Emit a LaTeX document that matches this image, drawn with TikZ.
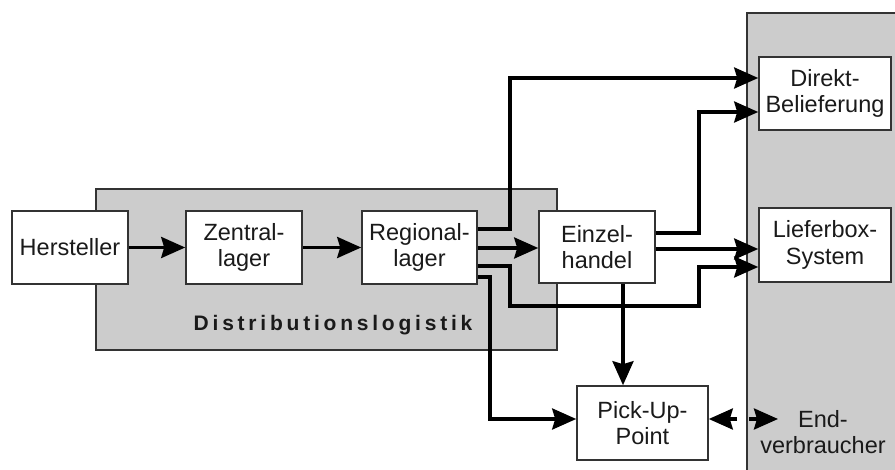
\documentclass[tikz,border=0pt]{standalone}
\usepackage{fontspec}
\setmainfont{Liberation Sans}
\newfontfamily\dlfont[LetterSpace=18]{Liberation Sans}
\usetikzlibrary{arrows.meta}
\definecolor{grayfill}{HTML}{CCCCCC}
\definecolor{edge}{HTML}{333333}
\definecolor{txt}{HTML}{1A1A1A}
\begin{document}
\begin{tikzpicture}[x=1pt,y=-1pt,
  box/.style={draw=edge,line width=1.6pt,fill=white,inner sep=0pt,align=center,
    text=txt,font=\fontsize{23.5}{26.5}\selectfont},
  area/.style={draw=edge,line width=1.2pt,fill=grayfill},
  arr/.style={line width=3.4pt,draw=black,-{Stealth[length=24pt,width=21pt,inset=3pt]}}]
\useasboundingbox (0,0) rectangle (895,470);
\fill[white] (0,0) rectangle (895,470);
% areas
\draw[area] (96,189) rectangle (557,350);
\draw[area] (747,13) rectangle (905,480);
\node[font=\dlfont\bfseries\fontsize{21}{24}\selectfont,text=txt] (dl) at (333,325) {Distributionslogistik};
% boxes
\node[box,minimum width=116pt,minimum height=73pt] (her) at (70,247.5) {Hersteller};
\node[box,minimum width=116pt,minimum height=73pt] (zen) at (244,247.5) {Zentral-\\lager};
\node[box,minimum width=115pt,minimum height=73pt] (reg) at (419.5,247.5) {Regional-\\lager};
\node[box,minimum width=116pt,minimum height=72pt] (ein) at (597,247) {Einzel-\\handel};
\node[box,minimum width=132pt,minimum height=73pt] (dir) at (825,93.5) {Direkt-\\Belieferung};
\node[box,minimum width=132pt,minimum height=74pt] (lie) at (825,245) {Lieferbox-\\System};
\node[box,minimum width=131pt,minimum height=74pt] (pic) at (642.5,423) {Pick-Up-\\Point};
\node[align=center,text=txt,font=\fontsize{23.5}{26.5}\selectfont] (end) at (823,432) {End-\\verbraucher};
% connectors
\draw[arr] (her) -- (zen);
\draw[arr] (zen) -- (reg);
\draw[arr] (reg.east |- 0,229) -- (510,229) -- (510,78) -- (dir.west |- 0,78);
\draw[arr] (reg.east |- 0,248) -- (ein.west |- 0,248);
\draw[arr] (reg.east |- 0,266) -- (510,266) -- (510,306) -- (699,306) -- (699,267) -- (lie.west |- 0,267);
\draw[arr] (reg.east |- 0,277) -- (490,277) -- (490,419) -- (pic.west |- 0,419);
\draw[arr] (ein.east |- 0,233) -- (699,233) -- (699,112) -- (dir.west |- 0,112);
\draw[arr] (ein.east |- 0,249) -- (lie.west |- 0,249);
\draw[arr] (ein.south -| 623,0) -- (pic.north -| 623,0);
\coordinate (s1) at (737,419);
\coordinate (s2) at (749,419);
\coordinate (tip) at (778,419);
\draw[arr] (s1) -- (pic.east |- 0,419);
\draw[arr] (s2) -- (tip);
\end{tikzpicture}
\end{document}
